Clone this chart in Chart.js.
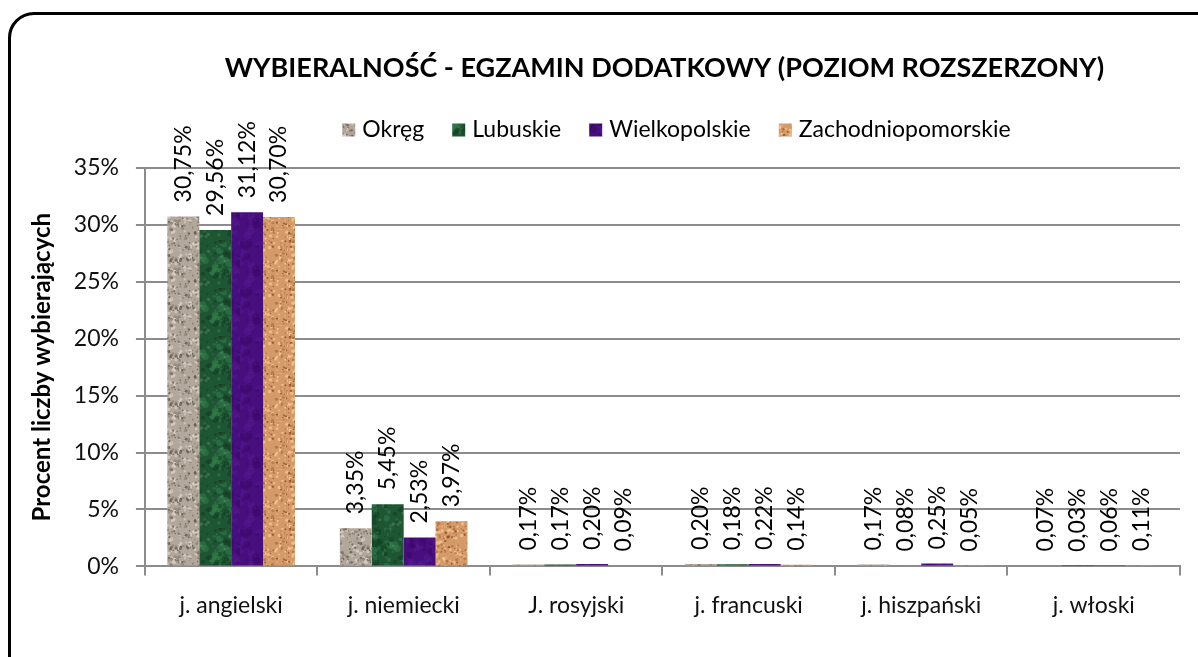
<!DOCTYPE html>
<html>
<head>
<meta charset="utf-8">
<script src="https://cdn.jsdelivr.net/npm/chart.js@4/dist/chart.umd.min.js"></script>
<style>
  html, body { margin: 0; padding: 0; background: #fff; }
  #frame {
    position: absolute; left: 8px; top: 12px; width: 1220px; height: 700px;
    border: 3px solid #000; border-radius: 26px; box-sizing: border-box;
  }
  #chart { position: absolute; left: 0; top: 0; }
</style>
</head>
<body>
<div id="frame"></div>
<canvas id="chart" width="1198" height="657"></canvas>
<script>
const categories = ['j. angielski', 'j. niemiecki', 'J. rosyjski', 'j. francuski', 'j. hiszpański', 'j. włoski'];
const seriesNames = ['Okręg', 'Lubuskie', 'Wielkopolskie', 'Zachodniopomorskie'];
const okreg = [30.75, 3.35, 0.17, 0.20, 0.17, 0.07];
const lubuskie = [29.56, 5.45, 0.17, 0.18, 0.08, 0.03];
const wielkopolskie = [31.12, 2.53, 0.20, 0.22, 0.25, 0.06];
const zachodniopomorskie = [30.70, 3.97, 0.09, 0.14, 0.05, 0.11];
const yMax = 35;
const yStep = 5;

const FONT = "Lato, 'Open Sans', sans-serif";
const chartTitle = 'WYBIERALNOŚĆ - EGZAMIN DODATKOWY (POZIOM ROZSZERZONY)';
const yTitle = 'Procent liczby wybierających';

// small seeded generator, only used for the bar textures
function seeded(seed) {
    return function () {
        seed |= 0; seed = seed + 0x6D2B79F5 | 0;
        let t = Math.imul(seed ^ seed >>> 15, 1 | seed);
        t = t + Math.imul(t ^ t >>> 7, 61 | t) ^ t;
        return ((t ^ t >>> 14) >>> 0) / 4294967296;
    };
}

function texture(base, spots, seed) {
    const c = document.createElement('canvas');
    c.width = 48; c.height = 48;
    const g = c.getContext('2d');
    g.fillStyle = base;
    g.fillRect(0, 0, 48, 48);
    const rnd = seeded(seed);
    spots.forEach(([color, count, size, alpha]) => {
        g.fillStyle = color;
        g.globalAlpha = alpha;
        for (let i = 0; i < count; i++) {
            const x = rnd() * 48, y = rnd() * 48, r = 0.4 + rnd() * size;
            g.beginPath();
            g.arc(x, y, r, 0, Math.PI * 2);
            g.fill();
        }
    });
    return g.createPattern(c, 'repeat');
}

const fills = [
    texture('#b2a79b', [['#d9d1c7', 90, 1.6, 0.8], ['#5a4e44', 90, 1.1, 0.7], ['#8a7d71', 90, 1.2, 0.7]], 11),
    texture('#1e5533', [['#34804e', 40, 4.5, 0.5], ['#113b20', 50, 3, 0.5], ['#5a9c70', 20, 1.5, 0.4]], 22),
    texture('#470e7e', [['#5a1c96', 35, 4, 0.4], ['#36085f', 35, 3.5, 0.4]], 33),
    texture('#d49b69', [['#f2c594', 110, 1.4, 0.8], ['#84451f', 70, 0.9, 0.7], ['#b5703f', 80, 1.2, 0.7]], 44)
];

const seriesValues = [okreg, lubuskie, wielkopolskie, zachodniopomorskie];

const labelPlugin = {
    id: 'barLabels',
    afterDatasetsDraw(chart) {
        const ctx = chart.ctx;
        ctx.save();
        ctx.font = '23px ' + FONT;
        ctx.fillStyle = '#000';
        ctx.textAlign = 'left';
        ctx.textBaseline = 'middle';
        chart.data.datasets.forEach((ds, i) => {
            chart.getDatasetMeta(i).data.forEach((bar, j) => {
                const txt = ds.data[j].toFixed(2).replace('.', ',') + '%';
                ctx.save();
                ctx.translate(bar.x, bar.y - 14);
                ctx.rotate(-Math.PI / 2);
                ctx.fillText(txt, 0, 0);
                ctx.restore();
            });
        });
        ctx.restore();
    }
};

const headerPlugin = {
    id: 'header',
    afterDraw(chart) {
        const ctx = chart.ctx;
        const area = chart.chartArea;
        const mid = (area.left + area.right) / 2;
        ctx.save();
        ctx.fillStyle = '#000';
        ctx.textBaseline = 'middle';
        ctx.textAlign = 'center';
        ctx.font = 'bold 27px ' + FONT;
        ctx.fillText(chartTitle, mid + 2, 68);

        // legend
        ctx.font = '23px ' + FONT;
        ctx.textAlign = 'left';
        const box = 13, gapText = 7, gapItem = 28;
        const widths = seriesNames.map(n => box + gapText + ctx.measureText(n).width);
        const total = widths.reduce((a, b) => a + b, 0) + gapItem * (widths.length - 1);
        let x = mid + 14 - total / 2;
        const y = 130;
        seriesNames.forEach((n, i) => {
            ctx.fillStyle = fills[i];
            ctx.fillRect(x, y - 6.5, box, box);
            ctx.fillStyle = '#000';
            ctx.fillText(n, x + box + gapText, y);
            x += widths[i] + gapItem;
        });
        ctx.restore();
    }
};

new Chart(document.getElementById('chart'), {
    type: 'bar',
    data: {
        labels: categories,
        datasets: seriesNames.map((name, i) => ({
            label: name,
            data: seriesValues[i],
            backgroundColor: fills[i],
            borderWidth: 0,
            categoryPercentage: 0.74,
            barPercentage: 1.0
        }))
    },
    options: {
        responsive: false,
        animation: false,
        layout: {
            padding: { top: 168, right: 18, bottom: 22, left: 15 }
        },
        plugins: {
            legend: { display: false },
            title: { display: false },
            tooltip: { enabled: false }
        },
        scales: {
            x: {
                grid: {
                    display: true,
                    drawOnChartArea: false,
                    drawTicks: true,
                    tickLength: 9,
                    color: '#8c8c8c',
                    lineWidth: 2
                },
                border: { color: '#8c8c8c', width: 2 },
                ticks: {
                    color: '#111',
                    font: { family: FONT, size: 23 },
                    padding: 16
                }
            },
            y: {
                min: 0,
                max: yMax,
                grid: {
                    color: '#8c8c8c',
                    lineWidth: 2,
                    tickLength: 9
                },
                border: { color: '#8c8c8c', width: 2 },
                ticks: {
                    stepSize: yStep,
                    color: '#111',
                    font: { family: FONT, size: 23 },
                    padding: 17,
                    callback: v => v + '%'
                },
                title: {
                    display: true,
                    text: yTitle,
                    color: '#000',
                    font: { family: FONT, size: 24, weight: 'bold' },
                    padding: { top: 13, bottom: 0 }
                }
            }
        }
    },
    plugins: [labelPlugin, headerPlugin]
});
</script>
</body>
</html>
